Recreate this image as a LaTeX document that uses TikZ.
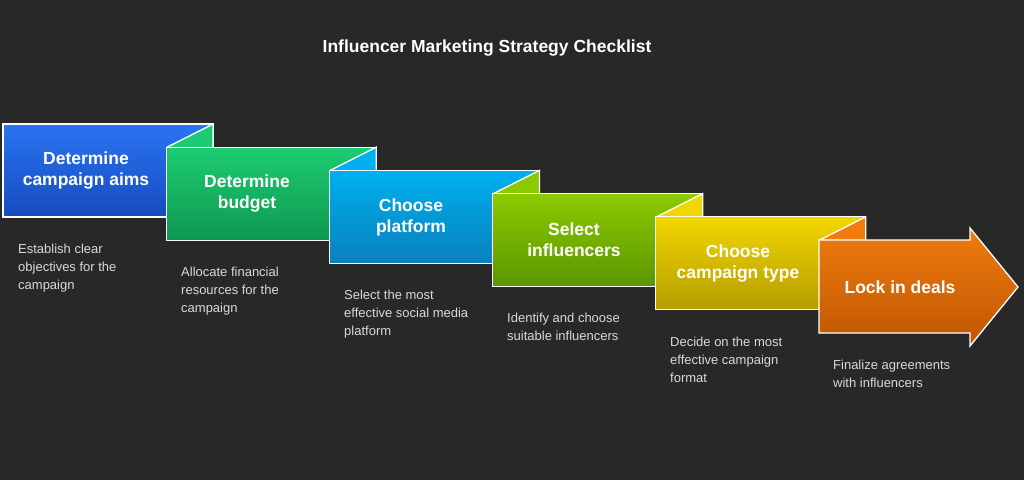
\documentclass[tikz,border=0pt]{standalone}
\usepackage{fontspec}
\setmainfont{Liberation Sans}
\begin{document}
\begin{tikzpicture}[x=1pt,y=-1pt,
  shp/.style={draw=white,line width=1.3pt,line join=miter},
  lbl/.style={text=white,font=\bfseries\fontsize{17.5}{21}\selectfont,align=center},
  dsc/.style={text=black!15,font=\fontsize{13}{18}\selectfont,align=left,anchor=north west,inner sep=0pt}]
\fill[fill={rgb,255:red,40;green,40;blue,40}] (0,0) rectangle (1024,480);
\useasboundingbox (0,0) rectangle (1024,480);
\definecolor{c1t}{HTML}{2A74F2}\definecolor{c1b}{HTML}{164BBE}
\definecolor{c2t}{HTML}{1DCC72}\definecolor{c2b}{HTML}{0E9850}
\definecolor{c3t}{HTML}{00B0F0}\definecolor{c3b}{HTML}{0A80BC}
\definecolor{c4t}{HTML}{8CCA00}\definecolor{c4b}{HTML}{5A9600}
\definecolor{c5t}{HTML}{F2D600}\definecolor{c5b}{HTML}{B49C00}
\definecolor{c6t}{HTML}{F07C10}\definecolor{c6b}{HTML}{BE5600}
\node[text=white,font=\bfseries\fontsize{17.5}{21}\selectfont] (title) at (487,48) {Influencer Marketing Strategy Checklist};
\foreach \i/\n in {1/2,2/3,3/4,4/5,5/6}{
  \pgfmathsetmacro\L{3+163.2*(\i-1)}
  \pgfmathsetmacro\T{124+23.2*(\i-1)}
  \shade[shp,top color=c\i t,bottom color=c\i b] (\L,\T) rectangle ++(210,93);
  \fill[c\n t] (\L+164,\T+23.2) -- (\L+210,\T) -- (\L+210,\T+23.2) -- cycle;
  \draw[shp] (\L+164,\T+23.2) -- (\L+210,\T) -- (\L+210,\T+23.2);
}
\shade[shp,top color=c6t,bottom color=c6b] (819,240) -- (970,240) -- (970,228) -- (1018,287) -- (970,346) -- (970,333) -- (819,333) -- cycle;
\node[lbl] (l1) at (86,170.5) {Determine\\campaign aims};
\node[lbl] (l2) at (247,193.7) {Determine\\budget};
\node[lbl] (l3) at (411,217) {Choose\\platform};
\node[lbl] (l4) at (574,240) {Select\\influencers};
\node[lbl] (l5) at (738,263.5) {Choose\\campaign type};
\node[lbl] (l6) at (900,287) {Lock in deals};
\node[dsc] (d1) at (18,244) {Establish clear\\objectives for the\\campaign};
\node[dsc] (d2) at (181,267) {Allocate financial\\resources for the\\campaign};
\node[dsc] (d3) at (344,290) {Select the most\\effective social media\\platform};
\node[dsc] (d4) at (507,313) {Identify and choose\\suitable influencers};
\node[dsc] (d5) at (670,337) {Decide on the most\\effective campaign\\format};
\node[dsc] (d6) at (833,360) {Finalize agreements\\with influencers};
\end{tikzpicture}
\end{document}
